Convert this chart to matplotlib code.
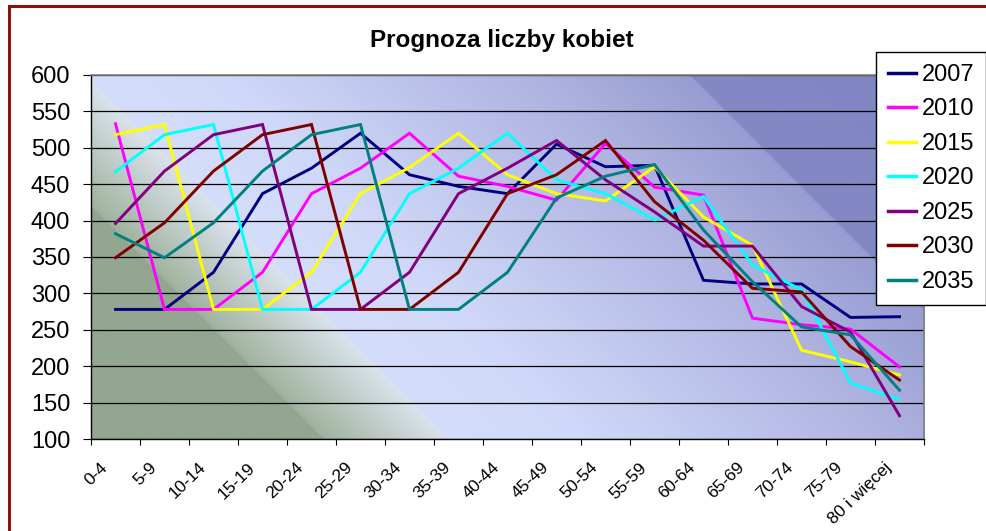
import numpy as np
import matplotlib
matplotlib.use("Agg")
import matplotlib.pyplot as plt
from matplotlib.patches import Rectangle
from matplotlib.transforms import ScaledTranslation

plt.rcParams['font.family'] = ['Liberation Sans', 'DejaVu Sans']

categories = ["0-4", "5-9", "10-14", "15-19", "20-24", "25-29", "30-34", "35-39",
              "40-44", "45-49", "50-54", "55-59", "60-64", "65-69", "70-74", "75-79",
              "80 i więcej"]

s2007 = [278, 278, 329, 437, 472, 520, 463, 447, 437, 505, 474, 476, 318, 313, 313, 267, 268]
s2010 = [533, 278, 278, 329, 437, 472, 520, 461, 447, 428, 506, 446, 435, 266, 257, 251, 199]
s2015 = [518, 532, 278, 278, 329, 437, 473, 520, 463, 437, 427, 474, 405, 366, 222, 206, 188]
s2020 = [467, 518, 532, 278, 278, 329, 437, 472, 520, 456, 437, 401, 433, 339, 305, 177, 154]
s2025 = [396, 468, 518, 532, 278, 278, 329, 437, 472, 510, 456, 412, 365, 365, 282, 247, 132]
s2030 = [349, 397, 468, 518, 532, 278, 278, 329, 437, 463, 510, 426, 373, 307, 302, 227, 181]
s2035 = [382, 349, 397, 468, 518, 532, 278, 278, 329, 431, 461, 477, 387, 316, 254, 243, 167]

series = [("2007", s2007, "#000080"), ("2010", s2010, "#FF00FF"), ("2015", s2015, "#FFFF00"),
          ("2020", s2020, "#00FFFF"), ("2025", s2025, "#800080"), ("2030", s2030, "#800000"),
          ("2035", s2035, "#008080")]

yticks = list(range(100, 601, 50))

W, H = 986, 531
DPI = 100
fig = plt.figure(figsize=(W / DPI, H / DPI), dpi=DPI)
fig.patch.set_facecolor("white")

L, R, T, B = 91, 924, 75, 439
ax = fig.add_axes([L / W, 1 - B / H, (R - L) / W, (B - T) / H])

# diagonal gradient background (styling)
xs = np.arange(L, R) + 0.5
ys = np.arange(T, B) + 0.5
XX, YY = np.meshgrid(xs, ys)
tt = XX - YY
stops_t = [-400, -116, -115, 8, 10, 150, 440, 612, 614, 900]
stops_c = np.array([(147, 166, 143), (147, 166, 143), (160, 178, 158), (218, 226, 236),
                    (212, 222, 250), (207, 216, 248), (176, 181, 226), (152, 157, 210),
                    (132, 136, 197), (128, 131, 193)]) / 255.0
img = np.dstack([np.interp(tt, stops_t, stops_c[:, k]) for k in range(3)])
ax.imshow(img, extent=[0, 1, 0, 1], transform=ax.transAxes, aspect='auto',
          origin='upper', zorder=0, interpolation='bilinear')

x = np.arange(len(categories))
for name, vals, col in series:
    ax.plot(x, vals, color=col, lw=2.1, label=name, zorder=3, solid_joinstyle='miter')

ax.set_xlim(-0.5, len(categories) - 0.5)
ax.set_ylim(100, 600)
ax.set_yticks(yticks)
ax.set_yticklabels([str(v) for v in yticks], fontsize=17)
ax.tick_params(axis='y', length=6, width=0.8, direction='out', pad=9, colors='black')
ax.yaxis.grid(True, color='black', lw=0.9)
ax.set_axisbelow(True)

ax.set_xticks(x)
ax.set_xticklabels(categories, fontsize=12.5, rotation=44, ha='right', va='top')
ax.tick_params(axis='x', which='major', length=0, pad=15)
ax.set_xticks(np.arange(-0.5, len(categories), 1.0), minor=True)
ax.tick_params(axis='x', which='minor', length=4, width=0.8, direction='out')
off = ScaledTranslation(-5 / DPI, 0, fig.dpi_scale_trans)
for lab in ax.get_xticklabels():
    lab.set_transform(lab.get_transform() + off)

for side in ['left', 'bottom']:
    ax.spines[side].set_color('black')
    ax.spines[side].set_linewidth(1.0)
for side in ['top', 'right']:
    ax.spines[side].set_color('#808080')
    ax.spines[side].set_linewidth(1.2)

leg = ax.legend(loc='upper left', bbox_to_anchor=(876 / W, 1 - 52 / H),
                bbox_transform=fig.transFigure, borderaxespad=0, fontsize=17,
                frameon=True, fancybox=False, framealpha=1, edgecolor='black',
                handlelength=1.2, handletextpad=0.25, labelspacing=0.53, borderpad=0.5)
leg.get_frame().set_linewidth(1.0)
for h in leg.legend_handles:
    h.set_linewidth(2.5)

fig.text(502 / W, 1 - 40 / H, "Prognoza liczby kobiet", fontsize=17.5, fontweight='bold',
         ha='center', va='center')

fig.patches.append(Rectangle((9 / W, -0.1), 1.2, 1 - 6 / H + 0.1, transform=fig.transFigure,
                             fill=False, edgecolor='#8B1010', lw=2.2, zorder=10))

fig.savefig("out.png", dpi=DPI)
